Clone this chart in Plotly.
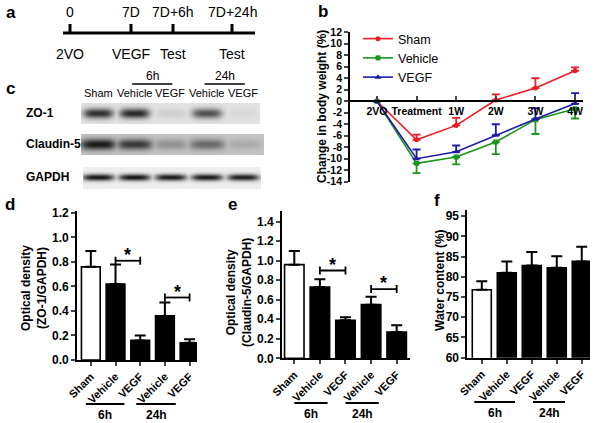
import numpy as np
import plotly.graph_objects as go

FONT = "Liberation Sans, Arial, Helvetica, sans-serif"

# ------------------------------------------------------------------ data
# panel a: timeline
timeline_top = ["0", "7D", "7D+6h", "7D+24h"]
timeline_bottom = ["2VO", "VEGF", "Test", "Test"]

# panel b: change in body weight (%)
b_categories = ["2VO", "Treatment", "1W", "2W", "3W", "4W"]
b_ticks = [12, 10, 8, 6, 4, 2, 0, -2, -4, -6, -8, -10, -12, -14]
b_sham = [0, -6.7, -4.2, 0.2, 2.3, 5.3]
b_sham_err = [0, 0.9, 1.3, 1.0, 1.7, 0.6]
b_vehicle = [0, -10.8, -9.7, -7.1, -3.2, -1.3]
b_vehicle_err = [0, 1.7, 1.3, 2.1, 2.5, 1.7]
b_vegf = [0, -10.0, -8.8, -5.9, -3.1, -0.4]
b_vegf_err = [0, 1.6, 1.1, 1.9, 1.9, 1.8]

# panel c: western blot (band darkness 0..1 per lane)
blot_lanes = ["Sham", "Vehicle", "VEGF", "Vehicle", "VEGF"]
blot_proteins = ["ZO-1", "Claudin-5", "GAPDH"]
zo1_band = [0.85, 0.88, 0.20, 0.72, 0.16]
claudin5_band = [0.95, 0.82, 0.45, 0.62, 0.35]
gapdh_band = [0.95, 0.95, 0.93, 0.93, 0.92]

# panels d, e, f
groups = ["Sham", "Vehicle", "VEGF", "Vehicle", "VEGF"]
time_groups = ["6h", "24h"]
d_vals = [0.76, 0.62, 0.16, 0.36, 0.14]
d_err = [0.13, 0.16, 0.04, 0.11, 0.03]
d_sig = [0.81, 0.51]
e_vals = [0.96, 0.73, 0.39, 0.55, 0.27]
e_err = [0.14, 0.08, 0.03, 0.08, 0.07]
e_sig = [0.90, 0.71]
f_vals = [76.8, 81.0, 82.8, 82.2, 83.8]
f_err = [2.1, 2.8, 3.3, 2.9, 3.6]

# ------------------------------------------------------------------ layout helpers
W, H = 600, 423


def pxx(p):
    return p / W


def pyy(p):
    return 1 - p / H


def ann(**kw):
    kw.setdefault("xanchor", "center")
    kw.setdefault("yanchor", "middle")
    kw.setdefault("showarrow", False)
    fig.add_annotation(**kw)


fig = go.Figure()

# full-figure pixel overlay axes (for the diagrams a & c)
fig.update_layout(
    xaxis=dict(domain=[0, 1], range=[0, W], visible=False, automargin=False),
    yaxis=dict(domain=[0, 1], range=[H, 0], visible=False, automargin=False),
)

# ---------------- panel a: timeline
A_TICK_PX = [70, 131, 173, 232]
A_LINE = (63, 255, 33)
fig.add_trace(go.Scatter(x=[A_LINE[0], A_LINE[1]], y=[A_LINE[2]] * 2, mode="lines",
                         line=dict(color="black", width=3), xaxis="x", yaxis="y",
                         showlegend=False, hoverinfo="skip"))
for xp in A_TICK_PX:
    fig.add_trace(go.Scatter(x=[xp, xp], y=[24, A_LINE[2]], mode="lines",
                             line=dict(color="black", width=3), xaxis="x", yaxis="y",
                             showlegend=False, hoverinfo="skip"))
for xp, t1, t2 in zip(A_TICK_PX, timeline_top, timeline_bottom):
    ann(x=xp, y=12, xref="x", yref="y", text=t1, font=dict(size=14, family=FONT, color="black"))
    ann(x=xp, y=54, xref="x", yref="y", text=t2, font=dict(size=14, family=FONT, color="black"))

# ---------------- panel c: blot
LANE_X0, LANE_DX = 98, 36.2
lane_px = [LANE_X0 + i * LANE_DX for i in range(len(blot_lanes))]
strips = [
    # (bands, y_center, y_top, y_bottom, band half-height, band half-width, background, x_left, x_right)
    (zo1_band, 113, 103, 123, 5.0, 15, 0.12, 81, 259),
    (claudin5_band, 144, 134, 154, 5.5, 18, 0.24, 81, 263),
    (gapdh_band, 177, 167, 188, 3.4, 16, 0.07, 83, 260),
]
gx = np.arange(78, 266, 1.0)
gy = np.arange(100, 191, 1.0)
Z = np.full((len(gy), len(gx)), np.nan)
for bands, yc, yt, yb, hh, hw, bg, xl, xr in strips:
    for iy, yv in enumerate(gy):
        if yv < yt or yv > yb:
            continue
        fy = np.exp(-((yv - yc) / hh) ** 2)
        row = np.full(len(gx), bg)
        for lx, inten in zip(lane_px, bands):
            fx = np.exp(-(np.abs(gx - lx) / hw) ** 4)
            row = np.maximum(row, bg + (inten - bg) * fx * fy)
        row[(gx < xl) | (gx > xr)] = np.nan
        Z[iy] = row
fig.add_trace(go.Heatmap(x=gx, y=gy, z=Z, zmin=0, zmax=1,
                         colorscale=[[0, "#ffffff"], [1, "#0c0c0c"]], showscale=False,
                         xaxis="x", yaxis="y", hoverinfo="skip"))
for lx, lab in zip(lane_px, blot_lanes):
    ann(x=lx, y=93, xref="x", yref="y", text=lab, font=dict(size=11, family=FONT, color="black"))
for lab, yc in zip(blot_proteins, [113, 144, 177]):
    ann(x=24, y=yc, xref="x", yref="y", text=lab, xanchor="left",
        font=dict(size=12, family=FONT, color="black", weight="bold"))
for tg, (i0, i1) in zip(time_groups, [(1, 2), (3, 4)]):
    x0, x1 = lane_px[i0] - 2, lane_px[i1] + 2
    fig.add_shape(type="line", x0=x0, x1=x1, y0=84, y1=84, xref="x", yref="y",
                  line=dict(color="black", width=1.5))
    ann(x=(x0 + x1) / 2, y=76, xref="x", yref="y", text=tg,
        font=dict(size=12, family=FONT, color="black"))

# ---------------- panel b
B_X = (350, 583)
B_Y = (32.3, 181.7)
b_x = list(range(len(b_categories)))
zero_px = B_Y[0] + (12 - 0) / 26 * (B_Y[1] - B_Y[0])
series = [
    ("Sham", b_sham, b_sham_err, "#ec1c24", "circle", 5, True),
    ("Vehicle", b_vehicle, b_vehicle_err, "#1b951b", "square", 5, False),
    ("VEGF", b_vegf, b_vegf_err, "#1c1ca8", "triangle-up", 6, True),
]
for name, vals, errs, col, sym, ms, up in series:
    fig.add_trace(go.Scatter(
        x=b_x, y=vals, name=name, mode="lines+markers", xaxis="x2", yaxis="y2",
        line=dict(color=col, width=1.6), marker=dict(symbol=sym, size=ms, color=col),
        error_y=dict(type="data", symmetric=False,
                     array=errs if up else [0] * len(errs),
                     arrayminus=[0] * len(errs) if up else errs,
                     color=col, thickness=1.8, width=4),
    ))
btf = dict(size=10.5, family=FONT, color="black", weight="bold")
fig.update_layout(
    xaxis2=dict(domain=[pxx(B_X[0]), pxx(B_X[1])], anchor="free", position=pyy(zero_px),
                range=[-0.68, 5.2], tickvals=b_x, ticktext=b_categories, automargin=False,
                ticks="inside", ticklen=4, tickwidth=1.5, showline=True, linewidth=1.8,
                linecolor="black", showgrid=False, zeroline=False, tickfont=btf),
    yaxis2=dict(domain=[pyy(B_Y[1]), pyy(B_Y[0])], anchor="x2", range=[-14, 12],
                tickvals=b_ticks, ticktext=[str(v) for v in b_ticks], automargin=False,
                ticks="outside", ticklen=4, tickwidth=1.5, showline=True, linewidth=1.8,
                linecolor="black", showgrid=False, zeroline=False, tickfont=btf),
)
ann(x=pxx(322), y=pyy(107), xref="paper", yref="paper",
    text="Change in body weight (%)", textangle=-90,
    font=dict(size=12, family=FONT, color="black", weight="bold"))


# ---------------- bar panels
def bar_panel(n, vals, errs, xpx, ypx, yrange, yticks, yfmt, xr, sig, title, title_px, underline, lab_y):
    xa, ya = f"x{n}", f"y{n}"
    colors = ["white"] + ["black"] * (len(vals) - 1)
    fig.add_trace(go.Bar(
        x=list(range(len(vals))), y=vals, width=0.76, xaxis=xa, yaxis=ya, showlegend=False,
        marker=dict(color=colors, line=dict(color="black", width=1.6)),
        error_y=dict(type="data", symmetric=False, array=errs, arrayminus=[0] * len(errs),
                     color="black", thickness=2, width=5.5),
    ))
    tf = dict(size=12, family=FONT, color="black", weight="bold")
    xtf = dict(size=11, family=FONT, color="black", weight="bold")
    fig.layout[f"xaxis{n}"] = dict(
        domain=[pxx(xpx[0]), pxx(xpx[1])], anchor=ya, range=xr, automargin=False,
        tickvals=list(range(len(groups))), ticktext=groups, tickangle=-45,
        ticks="outside", ticklen=4, tickwidth=1.5, showline=True, linewidth=1.8,
        linecolor="black", showgrid=False, zeroline=False, tickfont=xtf)
    fig.layout[f"yaxis{n}"] = dict(
        domain=[pyy(ypx[1]), pyy(ypx[0])], anchor=xa, range=yrange, automargin=False,
        tickvals=yticks, ticktext=[yfmt.format(v) for v in yticks],
        ticks="outside", ticklen=4, tickwidth=1.5, showline=True, linewidth=1.8,
        linecolor="black", showgrid=False, zeroline=False, tickfont=tf)
    # significance brackets
    if sig:
        delta = 4 / (ypx[1] - ypx[0]) * (yrange[1] - yrange[0])
        for h, (i0, i1) in zip(sig, [(1, 2), (3, 4)]):
            fig.add_shape(type="line", x0=i0, x1=i1, y0=h, y1=h, xref=xa, yref=ya,
                          line=dict(color="black", width=1.8))
            for xi in (i0, i1):
                fig.add_shape(type="line", x0=xi, x1=xi, y0=h - delta, y1=h + delta,
                              xref=xa, yref=ya, line=dict(color="black", width=1.8))
            ann(x=(i0 + i1) / 2, y=h, xref=xa, yref=ya, text="*", yshift=6,
                font=dict(size=18, family=FONT, color="black", weight="bold"))
    # y title
    ann(x=pxx(title_px[0]), y=pyy(title_px[1]), xref="paper", yref="paper",
        text=title, textangle=-90,
        font=dict(size=12, family=FONT, color="black", weight="bold"))
    # time-group underline
    for tg, (x0, x1) in zip(time_groups, underline):
        fig.add_shape(type="line", x0=x0, x1=x1, y0=pyy(lab_y), y1=pyy(lab_y),
                      xref=xa, yref="paper", line=dict(color="black", width=2))
        ann(x=(x0 + x1) / 2, y=pyy(lab_y + 11), xref=xa, yref="paper", text=tg,
            font=dict(size=12, family=FONT, color="black", weight="bold"))


bar_panel(3, d_vals, d_err, (77, 197), (210.5, 360), [0, 1.22],
          [0, 0.2, 0.4, 0.6, 0.8, 1.0, 1.2], "{:.1f}", [-0.56, 4.3], d_sig,
          "Optical density<br>(ZO-1/GAPDH)", (34, 288), [(-0.2, 1.36), (1.84, 3.44)], 404)
bar_panel(4, e_vals, e_err, (282, 410), (211, 358.3), [0, 1.51],
          [0, 0.2, 0.4, 0.6, 0.8, 1.0, 1.2, 1.4], "{:.1f}", [-0.48, 4.52], e_sig,
          "Optical density<br>(Claudin-5/GAPDH)", (239, 293), [(0.0, 1.3), (2.0, 3.3)], 403)
bar_panel(5, f_vals, f_err, (467.3, 590), (210, 357.7), [60, 96.5],
          [60, 65, 70, 75, 80, 85, 90, 95], "{:d}", [-0.58, 4.33], None,
          "Water content (%)", (440, 280), [(-0.3, 1.33), (2.05, 3.33)], 402)

# panel letters
for letter, (lx, ly) in zip("abcdef", [(11, 12), (323, 11), (10, 89), (10, 204), (232, 205), (437, 200)]):
    ann(x=pxx(lx), y=pyy(ly), xref="paper", yref="paper", text=letter,
        font=dict(size=17, family=FONT, color="black", weight="bold"))

fig.update_layout(
    template="none",
    width=W, height=H, margin=dict(l=0, r=0, t=0, b=0, autoexpand=False),
    paper_bgcolor="white", plot_bgcolor="rgba(0,0,0,0)",
    font=dict(family=FONT, color="black"),
    showlegend=True,
    legend=dict(x=pxx(358), y=pyy(24), xanchor="left", yanchor="top",
                bgcolor="rgba(0,0,0,0)", font=dict(size=12.5, family=FONT, color="black"),
                tracegroupgap=0, itemwidth=30),
    bargap=0.3,
)

fig.write_html("out.html", config={"displayModeBar": False},
               post_script="document.body.style.margin='0';document.body.style.overflow='hidden';")
